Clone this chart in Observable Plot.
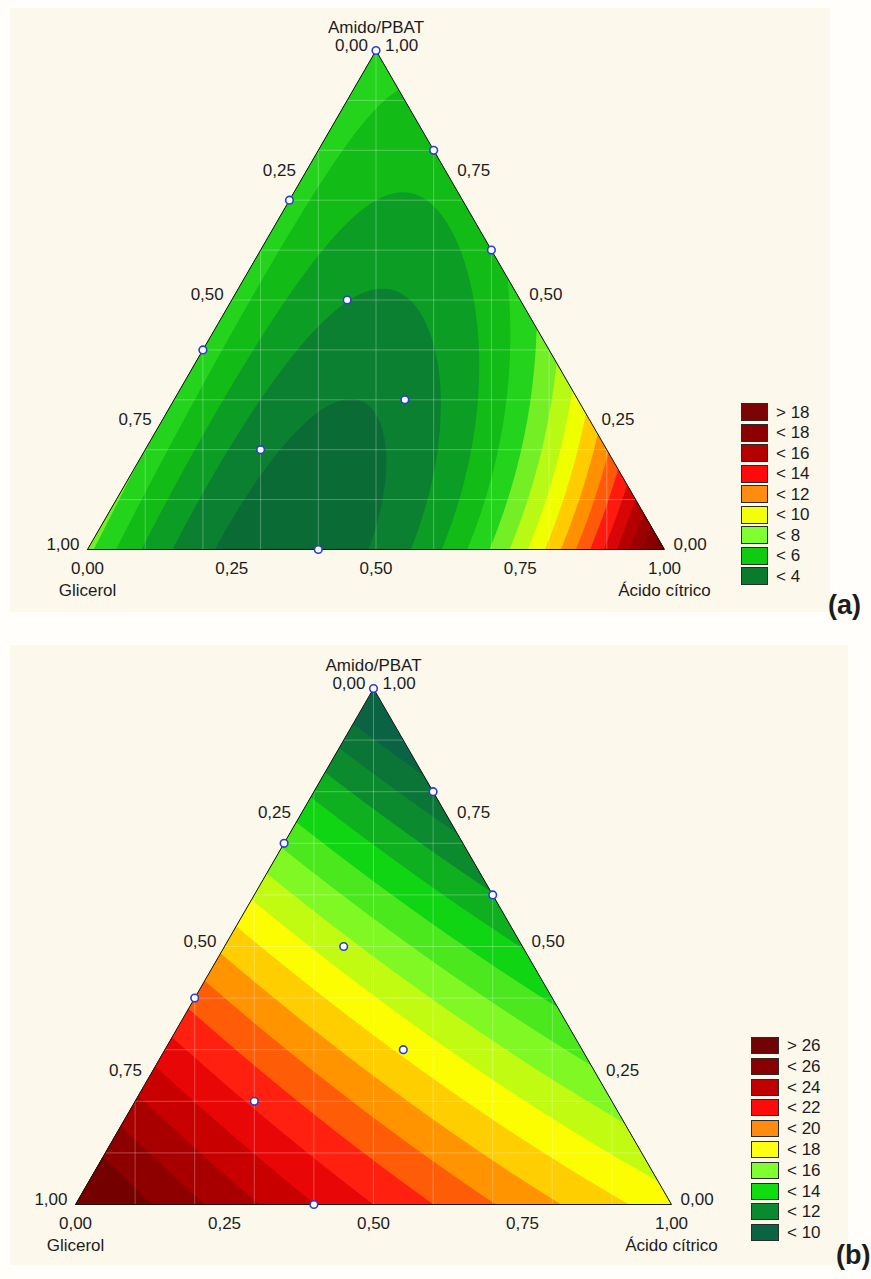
<!DOCTYPE html>
<html><head><meta charset="utf-8">
<script src="https://cdn.jsdelivr.net/npm/d3@7"></script>
<script src="https://cdn.jsdelivr.net/npm/@observablehq/plot@0.6"></script>
<style>
html,body{margin:0;padding:0;background:#fffefb;}
body{width:871px;height:1279px;overflow:hidden;position:relative;font-family:"Liberation Sans",Arial,sans-serif;color:#1c1c1c;}
.panel{position:absolute;background:#fdf8ec;}
.chart{position:absolute;left:0;}
.sw{position:absolute;border:1px solid #2a2a2a;box-sizing:border-box;}
.lt{position:absolute;font-size:17px;line-height:17px;white-space:nowrap;}
.tag{position:absolute;font-weight:bold;font-size:27px;line-height:27px;}
</style></head><body>
<div class="panel" style="left:10px;top:8px;width:820px;height:604px"></div>
<div class="panel" style="left:10px;top:645px;width:838px;height:620px"></div>
<div id="chartA" class="chart" style="top:0px"></div>
<div id="chartB" class="chart" style="top:630px"></div>
<div id="legA"></div>
<div id="legB"></div>
<div class="tag" style="left:828px;top:592px">(a)</div>
<div class="tag" style="left:836px;top:1242px">(b)</div>
<script>
// ---------- data ----------
const components = ["Amido/PBAT", "Glicerol", "Ácido cítrico"];
const tickValues = [0, 0.25, 0.5, 0.75, 1];
const tickLabels = ["0,00", "0,25", "0,50", "0,75", "1,00"];
const gridSteps = [0.1, 0.2, 0.3, 0.4, 0.5, 0.6, 0.7, 0.8, 0.9];

// experimental design (mixture fractions)
const designAmido    = [1, 0.8, 0.7, 0.6, 0.5, 0.4, 0.3, 0.2, 0];
const designGlicerol = [0, 0,   0.3, 0,   0.3, 0.6, 0.3, 0.6, 0.6];
const designAcido    = [0, 0.2, 0,   0.4, 0.2, 0,   0.4, 0.2, 0.4];

// fitted mixture-model coefficients
// [bA, bG, bC, bAG, bAC, bGC, dAC, dGC, bAGC]
const coefA = [6.5, 7.3, 19, -1, -25.5, -40, 6, 0, -10];
const coefB = [8.5, 27.5, 17.4, 3, 0, -1.8, 0, 0, 0];

// contour levels and band colours
const levelsA = [3,4,5,6,7,8,9,10,11,12,13,14,15,16,17,18];
const bandColorsA = ["#0b6b35","#0a8030","#0c9e24","#12bb16","#24d41c","#74ef26","#b8fa14","#f0ff00","#ffcc00","#ff9000","#ff5a0a","#ff1a10","#d80606","#b40000","#9c0000","#8a0000","#7a0000"];
const levelsB = [10,11,12,13,14,15,16,17,18,19,20,21,22,23,24,25,26];
const bandColorsB = ["#0a6444","#0b7538","#0c8a2e","#0eb01f","#10d512","#4ae81c","#80f824","#c2fb12","#fbfd00","#ffce00","#ff9300","#ff5c08","#ff2010","#e80606","#c80000","#a80000","#8e0000","#740000"];

// legends
const legendLabelsA = ["> 18","< 18","< 16","< 14","< 12","< 10","< 8","< 6","< 4"];
const legendColorsA = ["#7c0404","#8b0000","#b50000","#ff0a0a","#ff8c10","#f4ff0a","#80ff30","#10cc10","#0a7a2c"];
const legendLabelsB = ["> 26","< 26","< 24","< 22","< 20","< 18","< 16","< 14","< 12","< 10"];
const legendColorsB = ["#700404","#880000","#c00000","#ff0a0a","#ff8c10","#ffff10","#80ff30","#10dd10","#0a8a30","#0a6444"];

// ---------- helpers ----------
const SQ = Math.sqrt(3) / 2;
const tx = (a, g, c) => c + a / 2;
const ty = (a, g, c) => a * SQ;
function modelFn(coef) {
  const [bA,bG,bC,bAG,bAC,bGC,dAC,dGC,bAGC] = coef;
  return (X, Y) => {
    const a = Y / SQ, c = X - a / 2, g = 1 - a - c;
    return bA*a + bG*g + bC*c + bAG*a*g + a*c*(bAC + dAC*(a - c)) + g*c*(bGC + dGC*(g - c)) + bAGC*a*g*c;
  };
}
const design = designAmido.map((a, i) => ({a, g: designGlicerol[i], c: designAcido[i]}));
const vertices = [{a:0,g:1,c:0},{a:0,g:0,c:1},{a:1,g:0,c:0},{a:0,g:1,c:0}];
const FS = 17;

function makeChart(cfg) {
  const plot = Plot.plot({
    width: 871, height: cfg.height,
    marginLeft: cfg.ml, marginRight: cfg.mr, marginTop: cfg.mt, marginBottom: cfg.mb,
    x: {domain: [0, 1], axis: null},
    y: {domain: [0, SQ], axis: null},
    color: {type: "threshold", domain: cfg.levels, range: cfg.colors},
    style: {background: "transparent", fontFamily: "Liberation Sans, Arial, sans-serif", fontSize: FS + "px", overflow: "visible", color: "#1c1c1c"},
    marks: [
      Plot.contour({x1: 0, x2: 1, y1: 0, y2: SQ, fill: modelFn(cfg.coef), thresholds: [-1000, ...cfg.levels], pixelSize: 1, stroke: "none"}),
      Plot.ruleY(gridSteps, {y: d => d * SQ, stroke: "white", strokeOpacity: 0.28}),
      Plot.ruleX(gridSteps, {x: d => d, stroke: "white", strokeOpacity: 0.28}),
      Plot.line(vertices, {x: d => tx(d.a,d.g,d.c), y: d => ty(d.a,d.g,d.c), stroke: "#151515", strokeWidth: 1}),
      Plot.dot(design, {x: d => tx(d.a,d.g,d.c), y: d => ty(d.a,d.g,d.c), r: 3.8, fill: "white", stroke: "#2b3cd8", strokeWidth: 1.6}),
      // bottom axis (Ácido cítrico)
      Plot.text(tickValues, {x: t => tx(0, 1 - t, t), y: t => ty(0, 1 - t, t), text: (t, i) => tickLabels[i], dy: 19, fontSize: FS}),
      // left axis (Glicerol)
      Plot.text(tickValues, {x: t => tx(1 - t, t, 0), y: t => ty(1 - t, t, 0), text: (t, i) => tickLabels[i], dx: -8, dy: -5, textAnchor: "end", fontSize: FS}),
      // right axis (Amido/PBAT)
      Plot.text(tickValues, {x: t => tx(t, 0, 1 - t), y: t => ty(t, 0, 1 - t), text: (t, i) => tickLabels[i], dx: 9, dy: -5, textAnchor: "start", fontSize: FS}),
      // component names
      Plot.text([components[0]], {x: 0.5, y: SQ, text: d => d, dy: -23, fontSize: FS}),
      Plot.text([components[1]], {x: 0, y: 0, text: d => d, dy: 41, fontSize: FS}),
      Plot.text([components[2]], {x: 1, y: 0, text: d => d, dy: 41, fontSize: FS})
    ]
  });
  // clip the filled surface and the grid to the triangle
  const xs = plot.scale("x"), ys = plot.scale("y");
  const pts = vertices.slice(0, 3).map(d => [xs.apply(tx(d.a,d.g,d.c)), ys.apply(ty(d.a,d.g,d.c))]);
  const svg = d3.select(plot);
  svg.insert("defs", ":first-child").append("clipPath").attr("id", cfg.id + "-clip")
    .append("polygon").attr("points", pts.map(p => p.join(",")).join(" "));
  svg.selectAll('g[aria-label="contour"], g[aria-label="rule"]').attr("clip-path", `url(#${cfg.id}-clip)`);
  document.getElementById(cfg.id).appendChild(plot);
}

function makeLegend(id, labels, colors, left, top, step, w, h) {
  const el = document.getElementById(id);
  labels.forEach((lab, i) => {
    const sw = document.createElement("div");
    sw.className = "sw";
    sw.style.cssText = `left:${left}px;top:${top + i * step}px;width:${w}px;height:${h}px;background:${colors[i]}`;
    el.appendChild(sw);
    const t = document.createElement("div");
    t.className = "lt";
    t.style.cssText = `left:${left + w + 8}px;top:${top + i * step + (h - 17) / 2}px`;
    t.textContent = lab;
    el.appendChild(t);
  });
}

makeChart({id: "chartA", height: 620, ml: 87, mr: 207, mt: 50, mb: 71, coef: coefA, levels: levelsA, colors: bandColorsA});
makeChart({id: "chartB", height: 649, ml: 75, mr: 200, mt: 58, mb: 75, coef: coefB, levels: levelsB, colors: bandColorsB});
makeLegend("legA", legendLabelsA, legendColorsA, 741, 403, 20.5, 27, 18);
makeLegend("legB", legendLabelsB, legendColorsB, 751, 1037, 20.8, 28, 17);
</script>
</body></html>
